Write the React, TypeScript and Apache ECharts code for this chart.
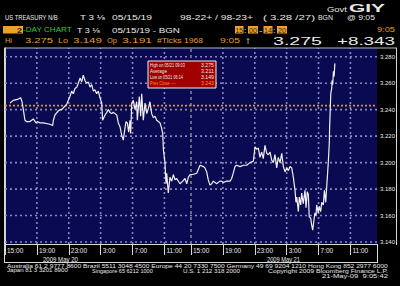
import React, { useEffect, useRef } from "react";
import * as echarts from "echarts";

// minutes on the session axis: 0 = 05/19 15:00, 1400 = 05/20 15:00 (sessions 15:00-14:20)
const sessionTicks = [0, 240, 480, 720, 960, 1200, 1400, 1640, 1880, 2120, 2360, 2600];
const tickLabels = ["15:00", "19:00", "23:00", "3:00", "7:00", "11:00", "15:00", "19:00", "23:00", "3:00", "7:00", "11:00"];
const gridMinutes = [240, 480, 720, 960, 1200, 1640, 1880, 2120, 2360, 2600];
const gridPrices = [3.14, 3.16, 3.18, 3.2, 3.22, 3.24, 3.26, 3.28];
const dayBreak = 1400;
const axisEnd = 2800;
const dateLabels = ["2009 May 20", "2009 May 21"];
const yMin = 3.1385;
const yMax = 3.2866;
const prevClose = 3.243;
const statLabels = ["High on 05/21 09:03", "Average", "Low on 05/21 06:14", "Prev Close ----"];
const statValues = ["3.275", "3.211", "3.149", "3.243"];

const priceTicks: [number, number][] = [
  [38, 3.245], [62, 3.247], [100, 3.248], [118, 3.249], [128, 3.246], [138, 3.24], [150, 3.232], [163, 3.231],
  [188, 3.231], [213, 3.233], [233, 3.23], [243, 3.231], [263, 3.23], [288, 3.23], [339, 3.229], [359, 3.228],
  [364, 3.232], [376, 3.236], [401, 3.239], [414, 3.24], [427, 3.24], [444, 3.242], [464, 3.244], [476, 3.247],
  [489, 3.25], [502, 3.254], [514, 3.252], [527, 3.256], [540, 3.257], [552, 3.26], [565, 3.264], [577, 3.261],
  [589, 3.266], [602, 3.262], [615, 3.26], [627, 3.261], [640, 3.257], [653, 3.259], [665, 3.254], [677, 3.255],
  [690, 3.252], [702, 3.254], [715, 3.249], [728, 3.245], [735, 3.232], [753, 3.236], [766, 3.238], [778, 3.24],
  [790, 3.238], [803, 3.237], [815, 3.238], [828, 3.237], [841, 3.236], [853, 3.23], [866, 3.227], [878, 3.221],
  [890, 3.217], [903, 3.226], [911, 3.231], [921, 3.23], [931, 3.223], [941, 3.232], [946, 3.222], [954, 3.245],
  [966, 3.247], [979, 3.24], [991, 3.246], [996, 3.232], [1011, 3.25], [1021, 3.235], [1029, 3.252], [1041, 3.232],
  [1054, 3.245], [1067, 3.237], [1079, 3.241], [1091, 3.246], [1104, 3.237], [1116, 3.234], [1129, 3.235], [1142, 3.232],
  [1154, 3.231], [1167, 3.23], [1179, 3.226], [1187, 3.222], [1192, 3.21], [1204, 3.2], [1212, 3.184], [1217, 3.192],
  [1229, 3.177], [1242, 3.189], [1255, 3.186], [1267, 3.191], [1280, 3.187], [1292, 3.188], [1317, 3.184], [1338, 3.186],
  [1355, 3.188], [1368, 3.184], [1380, 3.189], [1393, 3.191], [1413, 3.191], [1443, 3.192], [1468, 3.198], [1493, 3.197],
  [1505, 3.196], [1518, 3.193], [1530, 3.187], [1543, 3.183], [1556, 3.184], [1568, 3.186], [1593, 3.184], [1618, 3.186],
  [1631, 3.186], [1643, 3.185], [1668, 3.186], [1694, 3.186], [1706, 3.188], [1718, 3.192], [1731, 3.197], [1744, 3.198],
  [1769, 3.197], [1794, 3.198], [1819, 3.198], [1844, 3.2], [1869, 3.201], [1882, 3.212], [1894, 3.21], [1907, 3.211],
  [1919, 3.204], [1932, 3.208], [1944, 3.203], [1957, 3.213], [1970, 3.207], [1982, 3.206], [1995, 3.208], [2007, 3.202],
  [2020, 3.2], [2032, 3.206], [2045, 3.196], [2057, 3.204], [2070, 3.2], [2083, 3.207], [2095, 3.197], [2108, 3.193],
  [2120, 3.196], [2133, 3.194], [2145, 3.197], [2158, 3.196], [2170, 3.189], [2183, 3.179], [2190, 3.17], [2196, 3.174],
  [2208, 3.163], [2215, 3.174], [2226, 3.168], [2233, 3.177], [2245, 3.169], [2258, 3.179], [2266, 3.166], [2275, 3.178],
  [2283, 3.176], [2290, 3.159], [2301, 3.158], [2308, 3.153], [2316, 3.149], [2326, 3.157], [2333, 3.162], [2341, 3.16],
  [2346, 3.168], [2358, 3.162], [2366, 3.167], [2376, 3.163], [2384, 3.17], [2396, 3.168], [2404, 3.179], [2414, 3.17],
  [2421, 3.181], [2434, 3.201], [2441, 3.215], [2443, 3.225], [2447, 3.237], [2452, 3.252], [2460, 3.257], [2461, 3.262],
  [2467, 3.259], [2472, 3.269], [2477, 3.265], [2483, 3.275], [2485, 3.275],
];

const WHITE = "#e8e8e8";
const ORANGE = "#eb9a30";
const GREEN = "#3cc43c";
const FONT = '"Liberation Sans", Arial, sans-serif';

let measureCtx: CanvasRenderingContext2D | null = null;
function measure(text: string, size: number, weight: string, family: string) {
  if (!measureCtx) measureCtx = document.createElement("canvas").getContext("2d");
  if (!measureCtx) return text.length * size * 0.55;
  measureCtx.font = `${weight} ${size}px ${family}`;
  return measureCtx.measureText(text).width || 1;
}

function txt(text: string, x: number, y: number, w: number, fill: string, size = 8, weight = "normal", family = FONT) {
  const mw = measure(text, size, weight, family);
  return {
    type: "text",
    x,
    y,
    scaleX: w / mw,
    silent: true,
    z: 10,
    style: { text, fill, fontSize: size, fontWeight: weight, fontFamily: family, align: "left", verticalAlign: "middle" },
  };
}

function box(x: number, y: number, w: number, h: number, fill: string, stroke?: string, z = 9) {
  return { type: "rect", silent: true, z, shape: { x, y, width: w, height: h }, style: { fill, stroke: stroke || null, lineWidth: 1 } };
}

function seg(x1: number, y1: number, x2: number, y2: number, stroke: string, lineWidth = 1) {
  return { type: "line", silent: true, z: 9, shape: { x1, y1, x2, y2 }, style: { stroke, lineWidth } };
}

function guide(data: [number, number][], color: string, width: number, dash: number[]) {
  return {
    type: "line",
    z: 1,
    silent: true,
    data,
    showSymbol: false,
    symbol: "none",
    lineStyle: { color, width, type: dash },
    emphasis: { disabled: true },
  };
}

export default function App() {
  const ref = useRef<HTMLDivElement>(null);
  useEffect(() => {
    if (!ref.current) return;
    const chart = echarts.init(ref.current, undefined, { renderer: "svg" });

    const graphics: any[] = [
      // plot background (behind everything)
      box(5, 48, 372, 196, "#0a0a52", undefined, -100),
      // header line 0
      txt("Govt", 327, 9, 20, WHITE, 8),
      txt("GIY", 349, 8.5, 36, WHITE, 11, "bold"),
      // header line 1
      txt("US TREASURY N/B", 5, 17, 53, WHITE),
      txt("T 3 \u215B", 80, 17, 25, WHITE),
      txt("05/15/19", 112, 17, 40, WHITE),
      txt("98-22+ / 98-23+", 180, 17, 73, WHITE),
      txt("( 3.28 /27)", 263, 17, 52, WHITE),
      txt("BGN", 318, 17, 15, WHITE),
      txt("@ 9:05", 347, 17, 28, WHITE),
      // header line 2
      box(3, 26, 20, 7.5, "#f0a028"),
      txt("2", 17, 30, 5, "#301800", 8, "bold"),
      txt("-DAY CHART", 23, 30, 49, GREEN),
      txt("T 3 \u215B", 77, 30, 23, WHITE),
      txt("05/15/19 - BGN", 112, 30, 68, WHITE),
      box(235, 26, 8.5, 7.5, "#f0a028"),
      txt("15", 235.5, 30, 7.5, "#402000"),
      txt(":", 244, 30, 2.5, WHITE),
      box(248, 26, 10, 7.5, "#f0a028"),
      txt("00", 249, 30, 8, "#402000"),
      txt("-", 259, 30, 3.5, WHITE),
      box(263.5, 26, 9, 7.5, "#f0a028"),
      txt("14", 264, 30, 8, "#402000"),
      txt(":", 273, 30, 2.5, WHITE),
      box(277, 26, 10, 7.5, "#f0a028"),
      txt("20", 278, 30, 8, "#402000"),
      txt("9:05", 377, 29.5, 18, ORANGE),
      // header line 3
      txt("Hi", 5, 40, 7, ORANGE),
      txt("3.275", 25, 40, 28, ORANGE),
      txt("Lo", 58, 40, 10, ORANGE),
      txt("3.149", 73, 40, 29, ORANGE),
      txt("Op", 107, 40, 10, ORANGE),
      txt("3.191", 122, 40, 30, ORANGE),
      txt("#Ticks 1968", 157, 40, 46, ORANGE),
      txt("9:05", 220, 40, 20, ORANGE),
      txt("\u2191", 245, 40.5, 6, WHITE, 10, "bold"),
      txt("3.275", 273, 41, 49, WHITE, 11),
      txt("+8.343", 337, 41, 58, WHITE, 11),
      // frame
      seg(4, 48, 397, 48, "#b8b8b8"),
      seg(4.5, 48, 4.5, 263, "#d8d8d8"),
      seg(396.5, 48, 396.5, 245, "#d8d8d8"),
      seg(377.5, 244, 377.5, 263, "#d8d8d8"),
      seg(4, 262.5, 378, 262.5, "#d8d8d8"),
      txt(dateLabels[0], 43, 259, 35, WHITE, 6.5),
      txt(dateLabels[1], 267, 259, 33, WHITE, 6.5),
      // legend box
      box(148, 61, 68, 27, "#a00000", "#f0f0f0"),
      ...statLabels.map((s, i) => txt(s, 150, 65 + i * 6, i === 0 ? 35 : i === 1 ? 17 : i === 2 ? 33 : 26, i === 3 ? "#ff9a1a" : WHITE, 5.5)),
      ...statValues.map((s, i) => txt(s, 201, 65 + i * 6, 13, i === 3 ? "#ff9a1a" : WHITE, 5.5)),
      // footer
      txt("Australia 61 2 9777 8600 Brazil 5511 3048 4500 Europe 44 20 7330 7500 Germany 49 69 9204 1210 Hong Kong 852 2977 6000", 7, 265.5, 381, WHITE, 6),
      txt("Japan 81 3 3201 8900", 7, 270.5, 61, WHITE, 6),
      txt("Singapore 65 6212 1000", 92, 270.5, 61, WHITE, 6),
      txt("U.S. 1 212 318 2000", 183, 270.5, 57, WHITE, 6),
      txt("Copyright 2009 Bloomberg Finance L.P.", 268, 270.5, 120, WHITE, 6),
      txt("21-May-09  9:05:42", 322, 275.5, 66, WHITE, 6),
    ];

    const gridColor = "#8686c0";
    const guides: any[] = [
      ...gridMinutes.map((m) => guide([[m, yMin], [m, yMax]], gridColor, 1.6, [2, 3])),
      ...gridPrices.map((p) => guide([[0, p], [axisEnd, p]], gridColor, 1.6, [2, 3])),
      guide([[dayBreak, yMin], [dayBreak, yMax]], "#6a6a80", 2, [3, 3]),
      guide([[0, prevClose], [axisEnd, prevClose]], "#e8901c", 1.8, [2, 2]),
    ];

    chart.setOption({
      animation: false,
      backgroundColor: "#000000",
      grid: { left: 5, right: 23, top: 48, bottom: 42, show: false },
      xAxis: {
        type: "value",
        min: 0,
        max: axisEnd,
        axisLine: { show: true, lineStyle: { color: "#d8d8d8", width: 1 } },
        axisTick: { show: true, customValues: sessionTicks, length: 11, lineStyle: { color: "#d8d8d8", width: 1 } },
        axisLabel: {
          customValues: sessionTicks,
          formatter: (v: number) => {
            const i = sessionTicks.indexOf(v);
            return i >= 0 ? tickLabels[i] : "";
          },
          color: WHITE,
          fontSize: 6.5,
          fontFamily: FONT,
          align: "left",
          verticalAlign: "top",
          padding: [0, 0, 0, 2],
          margin: 3,
        },
        splitLine: { show: false },
      },
      yAxis: {
        type: "value",
        position: "right",
        min: yMin,
        max: yMax,
        axisLine: { show: true, lineStyle: { color: "#d0d0d0", width: 1 } },
        axisTick: { show: false },
        axisLabel: {
          customValues: gridPrices,
          formatter: (v: number) => v.toFixed(3),
          color: WHITE,
          fontSize: 6,
          fontFamily: FONT,
          margin: 3,
        },
        splitLine: { show: false },
      },
      graphic: graphics,
      series: [
        ...guides,
        {
          type: "line",
          z: 3,
          data: priceTicks,
          showSymbol: false,
          lineStyle: { color: "#f0f0f0", width: 1.2 },
        },
      ],
    });
    return () => chart.dispose();
  }, []);
  return <div ref={ref} style={{ position: "fixed", left: 0, top: 0, width: 400, height: 286, background: "#000" }} />;
}
